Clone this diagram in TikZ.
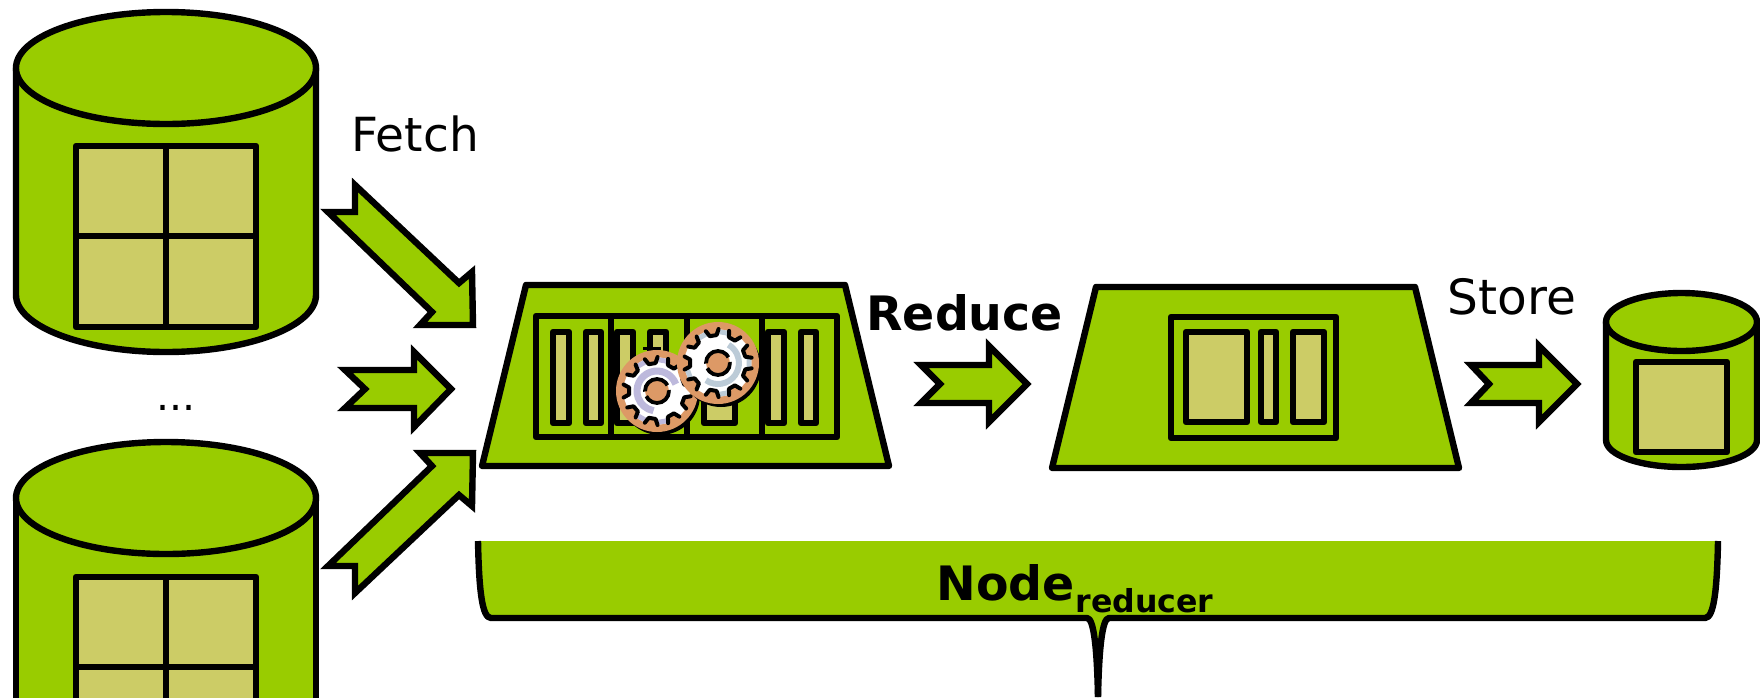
\documentclass[tikz,border=0pt]{standalone}
\usepackage{fontspec}
\setmainfont{DejaVu Sans}
\definecolor{grn}{HTML}{99CC00}
\definecolor{cellc}{HTML}{CCCC66}
\definecolor{orng}{HTML}{DD9966}
\definecolor{lav}{HTML}{BDB9DC}
\definecolor{gry}{HTML}{BCCBD7}
\newcommand{\geartooth}[3]{%
  % #1 centre, #2 tint, #3 list of tinted tooth numbers
  \begin{scope}[shift={#1}]
    \fill[black] (3,4) circle[radius=40];
    \fill[orng] (0,0) circle[radius=41];
    \fill[white] (-10:34)
      \foreach \i in {0,...,8}{
        -- ({\i*40-10}:34) -- ({\i*40+10}:34) -- ({\i*40+13}:27) -- ({\i*40+27}:27)
      } -- cycle;
    \foreach \i in {#3}{
      \fill[#2] ({\i*40-10}:34) -- ({\i*40+10}:34) -- ({\i*40+10}:29) -- ({\i*40-10}:29) -- cycle;
    }
    \foreach \i in {0,...,8}{
      \draw[black,line width=2pt,line cap=round,line join=round]
        ({\i*40+9}:34) -- ({\i*40+13}:28) -- ({\i*40+27}:28) -- ({\i*40+31}:34);
    }
  \end{scope}
}
\newcommand{\gearhub}[1]{%
  \begin{scope}[shift={#1}]
    \fill[orng] (0,0) circle[radius=12];
    \draw[black,line width=1.9pt,dash pattern=on 16pt off 2.5pt] (0,0) circle[radius=12];
  \end{scope}
}
\tikzset{
  body/.style={fill=grn,draw=black,line width=3.2pt,line join=round},
  cell/.style={fill=cellc,draw=black,line width=3.2pt,line join=round},
  frame/.style={draw=black,line width=3.2pt,line join=round},
  arrowshape/.style={fill=grn,draw=black,line width=3.2pt,line join=miter,miter limit=10},
  plainlabel/.style={anchor=base west,inner sep=0pt,font=\fontsize{23.5pt}{28pt}\selectfont,text=black},
  boldlabel/.style={anchor=base west,inner sep=0pt,font=\fontsize{23.7pt}{28pt}\selectfont\bfseries,text=black},
  sublabel/.style={anchor=base west,inner sep=0pt,font=\fontsize{15.8pt}{18pt}\selectfont\bfseries,text=black}
}
\begin{document}
\begin{tikzpicture}[x=0.5pt,y=-0.5pt]
\useasboundingbox (0,0) rectangle (1760,697);
\clip (0,0) rectangle (1760,697);
% cylinder 1
\path[body] (16,68) -- (16,295) .. controls (16,326) and (83,352) .. (166,352) .. controls (249,352) and (316,326) .. (316,295) -- (316,68) -- cycle;
\path[body] (166,68) ellipse[x radius=150,y radius=56];
\path[cell] (76,146) rectangle (256,327);
\draw[frame] (166,146) -- (166,327) (76,236) -- (256,236);
% cylinder 2
\path[body] (16,498) -- (16,760) -- (316,760) -- (316,498) -- cycle;
\path[body] (166,498) ellipse[x radius=150,y radius=56];
\path[cell] (76,577) rectangle (256,758);
\draw[frame] (166,577) -- (166,758) (76,667) -- (256,667);
% dots
\node[plainlabel,font=\fontsize{20.5pt}{24pt}\selectfont] (dots) at (156,410) {...};
% arrows
\path[arrowshape] (355,185) -- (459,283) -- (472,272) -- (473,325) -- (420,325) -- (432,312) -- (328,212) -- (355,212) -- cycle;
\path[arrowshape] (355,593) -- (459,495) -- (472,506) -- (473,453) -- (420,453) -- (432,466) -- (328,566) -- (355,566) -- cycle;
\path[arrowshape] (345,370) -- (414,370) -- (414,352) -- (451,389) -- (414,427) -- (414,408) -- (345,408) -- (365,389) -- cycle;
\path[arrowshape] (921,365) -- (989,365) -- (989,346) -- (1027,384) -- (989,422) -- (989,403) -- (921,403) -- (940,384) -- cycle;
\path[arrowshape] (1471,365) -- (1539,365) -- (1539,346) -- (1577,384) -- (1539,422) -- (1539,403) -- (1471,403) -- (1489,384) -- cycle;
% trapezoid 1
\path[body] (526,285) -- (845,285) -- (889,466) -- (482,466) -- cycle;
\path[body] (536,316) rectangle (837,437);
\draw[frame] (611,316) -- (611,437) (687,316) -- (687,437) (762,316) -- (762,437);
\foreach \a/\b in {553/569,586/601,617/633,650/666,704/735,768/784,801/816}{
  \path[cell] (\a,332) rectangle (\b,423);
}
\draw[line width=1.5pt] (643,348) -- (661,348);
% gears
\geartooth{(657,391)}{lav}{2,3,6,7}
\begin{scope}[shift={(657,391)}]
  \draw[lav,line width=3.5pt] (-20:20) arc[start angle=-20,end angle=-260,radius=20];
\end{scope}
\gearhub{(657,391)}
\geartooth{(718,363)}{gry}{0,2,4,6,7}
\begin{scope}[shift={(718,363)}]
  \draw[gry,line width=3pt] (125:21) arc[start angle=125,end angle=-60,radius=21];
\end{scope}
\gearhub{(718,363)}
% trapezoid 2
\path[body] (1096,287) -- (1415,287) -- (1459,468) -- (1052,468) -- cycle;
\path[body] (1171,317) rectangle (1336,438);
\foreach \a/\b in {1186/1247,1261/1276,1293/1324}{
  \path[cell] (\a,332) rectangle (\b,422);
}
% cylinder 3
\path[body] (1606,322) -- (1606,440) .. controls (1606,455) and (1640,467) .. (1681.5,467) .. controls (1723,467) and (1757,455) .. (1757,440) -- (1757,322) -- cycle;
\path[body] (1681.5,322) ellipse[x radius=75.5,y radius=29];
\path[cell] (1636,362) rectangle (1727,452);
% brace
\fill[grn] (478,541) .. controls (479,590) and (482,618) .. (491,618) -- (1087,618) .. controls (1092,618) and (1094,640) .. (1097,660) -- (1099,660) .. controls (1102,640) and (1104,618) .. (1109,618) -- (1705,618) .. controls (1714,618) and (1717,590) .. (1718,541) -- cycle;
\draw[frame] (478,541) .. controls (479,590) and (482,618) .. (491,618) -- (1087,618) .. controls (1094,618) and (1097,650) .. (1098,697);
\draw[frame] (1718,541) .. controls (1717,590) and (1714,618) .. (1705,618) -- (1109,618) .. controls (1102,618) and (1099,650) .. (1098,697);
% labels
\node[plainlabel] (fetch) at (351,151) {Fetch};
\node[boldlabel] (reduce) at (866,330) {Reduce};
\node[plainlabel,font=\fontsize{24.3pt}{28pt}\selectfont] (store) at (1447,314) {Store};
\node[boldlabel] (nodelabel) at (936,600) {Node};
\node[sublabel,anchor=base west] (sublabel) at (nodelabel.base east) [yshift=-6pt] {reducer};
\end{tikzpicture}
\end{document}
